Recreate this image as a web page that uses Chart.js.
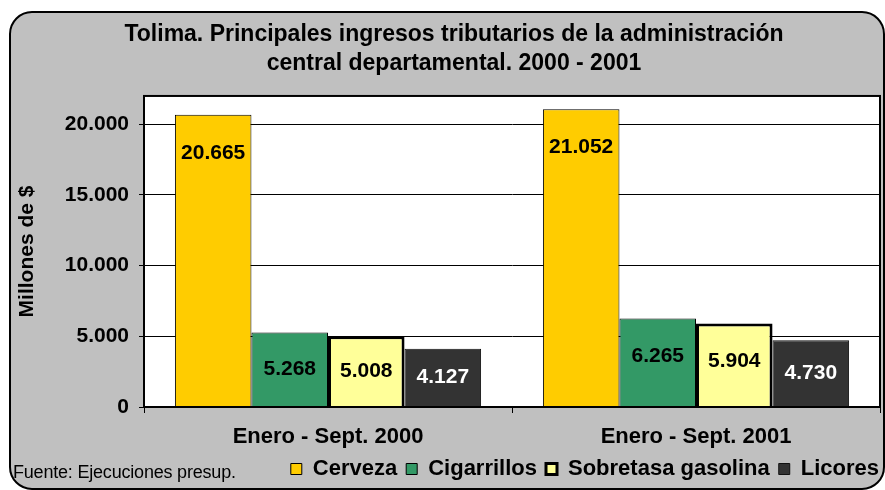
<!DOCTYPE html>
<html>
<head>
<meta charset="utf-8">
<script src="https://cdn.jsdelivr.net/npm/chart.js@4.4.0/dist/chart.umd.min.js"></script>
<style>
  body { margin: 0; background: #fff; }
  canvas { display: block; }
</style>
</head>
<body>
<canvas id="chart" width="885" height="490"></canvas>
<script>
const categories = ['Enero - Sept. 2000', 'Enero - Sept. 2001'];
const cerveza = [20665, 21052];
const cigarrillos = [5268, 6265];
const sobretasa = [5008, 5904];
const licores = [4127, 4730];
const yTicks = [0, 5000, 10000, 15000, 20000];

const titleLines = [
  'Tolima. Principales ingresos tributarios de la administración',
  'central departamental. 2000 - 2001'
];
const sourceText = 'Fuente: Ejecuciones presup.';

const FONT = '"Liberation Sans", Arial, sans-serif';
Chart.defaults.font.family = FONT;
Chart.defaults.color = '#000';

const PLOT_BOTTOM = 407;

function fmt(v) {
  return String(v).replace(/\B(?=(\d{3})+(?!\d))/g, '.');
}

// gray rounded frame, white plot area, plot border, source note
const framePlugin = {
  id: 'frame',
  afterLayout(chart) {
    // legend sits flush with the right edge of the frame
    chart.legend.left += 8;
    chart.legend.right += 8;
  },
  beforeDraw(chart) {
    const { ctx, chartArea: a } = chart;
    ctx.save();
    ctx.fillStyle = '#fff';
    ctx.fillRect(0, 0, chart.width, chart.height);
    ctx.beginPath();
    ctx.roundRect(10, 12, 874, 477, 22);
    ctx.fillStyle = '#c0c0c0';
    ctx.fill();
    ctx.lineWidth = 2;
    ctx.strokeStyle = '#000';
    ctx.stroke();
    ctx.fillStyle = '#fff';
    ctx.fillRect(a.left, a.top, a.right - a.left, a.bottom - a.top);
    ctx.restore();
  },
  afterDraw(chart) {
    const { ctx, chartArea: a } = chart;
    ctx.save();
    ctx.lineWidth = 2;
    ctx.strokeStyle = '#000';
    ctx.strokeRect(a.left, a.top, a.right - a.left, a.bottom - a.top);
    ctx.font = '18px ' + FONT;
    ctx.letterSpacing = '-0.2px';
    ctx.fillStyle = '#000';
    ctx.textBaseline = 'middle';
    ctx.textAlign = 'left';
    ctx.fillText(sourceText, 13, 473);
    ctx.restore();
  }
};

// value labels inside the bars
const labelPlugin = {
  id: 'barLabels',
  afterDatasetsDraw(chart) {
    const { ctx } = chart;
    ctx.save();
    ctx.font = 'bold 21px ' + FONT;
    ctx.textAlign = 'center';
    ctx.textBaseline = 'middle';
    chart.data.datasets.forEach((ds, i) => {
      chart.getDatasetMeta(i).data.forEach((bar, j) => {
        const y = Math.min((bar.y + bar.base) / 2, bar.y + 38);
        ctx.fillStyle = ds.labelColor;
        ctx.fillText(fmt(ds.data[j]), bar.x, y);
      });
    });
    ctx.restore();
  }
};

new Chart(document.getElementById('chart'), {
  type: 'bar',
  data: {
    labels: categories,
    datasets: [
      { label: 'Cerveza', data: cerveza, backgroundColor: '#ffcc00', borderColor: '#000', borderWidth: 1, labelColor: '#000' },
      { label: 'Cigarrillos', data: cigarrillos, backgroundColor: '#339966', borderColor: '#000', borderWidth: 1, labelColor: '#000' },
      { label: 'Sobretasa gasolina', data: sobretasa, backgroundColor: '#ffff99', borderColor: '#000', borderWidth: 3, labelColor: '#000' },
      { label: 'Licores', data: licores, backgroundColor: '#333333', borderColor: '#111', borderWidth: 1, labelColor: '#fff' }
    ]
  },
  options: {
    responsive: false,
    animation: false,
    categoryPercentage: 0.832,
    barPercentage: 1,
    layout: { padding: { left: 28, right: 5, top: 0, bottom: 0 } },
    plugins: {
      title: {
        display: true,
        text: titleLines,
        color: '#000',
        font: { size: 23, weight: 'bold', lineHeight: 1.26 },
        padding: { top: 20, bottom: 18 }
      },
      legend: {
        position: 'bottom',
        align: 'end',
        labels: {
          boxWidth: 11,
          boxHeight: 11,
          padding: 9,
          color: '#000',
          font: { size: 22, weight: 'bold' }
        }
      },
      tooltip: { enabled: false }
    },
    scales: {
      x: {
        offset: true,
        grid: { offset: true, drawOnChartArea: false, color: '#000', tickLength: 6 },
        border: { color: '#000', width: 2 },
        ticks: { color: '#000', padding: 11, font: { size: 22, weight: 'bold' } },
        afterFit: s => { s.height = s.chart.height - PLOT_BOTTOM - s.chart.legend.height; }
      },
      y: {
        min: 0,
        max: 22000,
        afterBuildTicks: s => { s.ticks = yTicks.map(v => ({ value: v })); },
        grid: { color: '#000', tickLength: 5 },
        border: { color: '#000', width: 2 },
        ticks: { color: '#000', padding: 10, font: { size: 21, weight: 'bold' }, callback: v => fmt(v) },
        title: {
          display: true,
          text: 'Millones de $',
          color: '#000',
          font: { size: 21, weight: 'bold', lineHeight: 1.2 },
          padding: { top: -13, bottom: 0 }
        },
        afterFit: s => { s.width = 116; }
      }
    }
  },
  plugins: [framePlugin, labelPlugin]
});
</script>
</body>
</html>
